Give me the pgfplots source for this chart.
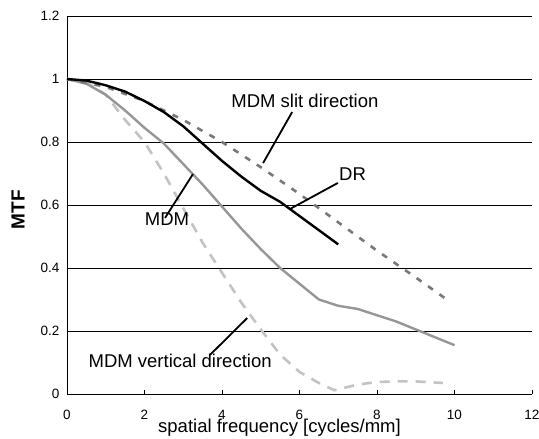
\documentclass[border=0pt]{standalone}
\usepackage{pgfplots}
\pgfplotsset{compat=1.18}
\usepackage{fontspec}
\setmainfont{Liberation Sans}
\definecolor{slitgray}{RGB}{120,120,120}
\definecolor{mdmgray}{RGB}{150,150,150}
\definecolor{vertgray}{RGB}{195,195,195}
\begin{document}
\begin{tikzpicture}
\begin{axis}[
  at={(0,0)}, anchor=south west,
  scale only axis, width=465pt, height=378pt,
  xmin=0, xmax=12, ymin=0, ymax=1.2,
  xtick={0,2,4,6,8,10,12}, ytick={0,0.2,0.4,0.6,0.8,1,1.2},
  yticklabels={0,0.2,0.4,0.6,0.8,1,1.2},
  axis x line*=bottom, axis y line*=left,
  axis line style={black, line width=0.9pt, -},
  ymajorgrids, grid style={black, line width=0.7pt},
  tick style={black, line width=0.7pt}, major tick length=4pt,
  x tick label style={yshift=-13pt},
  y tick label style={xshift=-4pt},
  /pgf/number format/assume math mode=true,
  ticklabel style={font=\fontsize{13.5}{15}\selectfont},
  xlabel={spatial frequency [cycles/mm]},
  xlabel style={at={(axis description cs:0.457,0)}, anchor=center, yshift=-34pt, font=\fontsize{18.5}{20}\selectfont},
  ylabel={MTF},
  ylabel style={at={(axis description cs:-0.105,0.487)}, anchor=center, font=\fontsize{19}{20}\selectfont\bfseries},
  clip=false,
]
% MDM vertical direction
\addplot[vertgray, line width=2.6pt, dash pattern=on 10pt off 8pt] coordinates {
(0,1)(0.5,0.99)(1,0.95)(1.5,0.87)(2,0.80)(2.5,0.70)(3,0.59)(3.5,0.48)(4,0.385)(4.5,0.29)(5,0.205)(5.5,0.125)(6,0.07)(6.5,0.035)(6.9,0.012)(7.5,0.03)(8,0.038)(8.5,0.04)(9,0.04)(9.7,0.035)};
% MDM
\addplot[mdmgray, line width=2.4pt] coordinates {
(0,1)(0.5,0.985)(1,0.95)(1.5,0.9)(2,0.845)(2.5,0.795)(3,0.73)(3.5,0.665)(4,0.595)(4.5,0.525)(5,0.46)(5.5,0.40)(6,0.35)(6.5,0.30)(7,0.28)(7.5,0.27)(8,0.25)(8.5,0.23)(9,0.205)(9.5,0.18)(10,0.155)};
% MDM slit direction
\addplot[slitgray, line width=2.6pt, dash pattern=on 6pt off 8pt] coordinates {
(0,1)(1,0.975)(2,0.93)(3,0.87)(4,0.80)(5,0.72)(6,0.635)(7,0.545)(8,0.455)(9,0.37)(9.8,0.30)};
% DR
\addplot[black, line width=2.4pt] coordinates {
(0,1)(0.5,0.995)(1,0.98)(1.5,0.96)(2,0.93)(2.5,0.895)(3,0.85)(3.5,0.795)(4,0.74)(4.5,0.69)(5,0.645)(5.5,0.61)(6,0.565)(6.5,0.52)(7,0.475)};
% leader lines
\draw[black, line width=1.8pt] (axis cs:5.81,0.895) -- (axis cs:5.06,0.733);
\draw[black, line width=1.8pt] (axis cs:6.99,0.670) -- (axis cs:5.75,0.587);
\draw[black, line width=1.8pt] (axis cs:2.53,0.559) -- (axis cs:3.25,0.698);
\draw[black, line width=1.8pt] (axis cs:3.69,0.124) -- (axis cs:4.65,0.241);
% annotations
\node[anchor=base, inner sep=0pt, font=\fontsize{18.5}{20}\selectfont] at (axis cs:6.14,0.911) {MDM slit direction};
\node[anchor=base, inner sep=0pt, font=\fontsize{18.5}{20}\selectfont] at (axis cs:7.37,0.679) {DR};
\node[anchor=base, inner sep=0pt, font=\fontsize{18.5}{20}\selectfont] at (axis cs:2.58,0.536) {MDM};
\node[anchor=base, inner sep=0pt, font=\fontsize{18.5}{20}\selectfont] at (axis cs:2.92,0.083) {MDM vertical direction};
\end{axis}
\pgfresetboundingbox
\path[use as bounding box] (-67pt,-45pt) rectangle (472pt,394pt);
\end{tikzpicture}
\end{document}
